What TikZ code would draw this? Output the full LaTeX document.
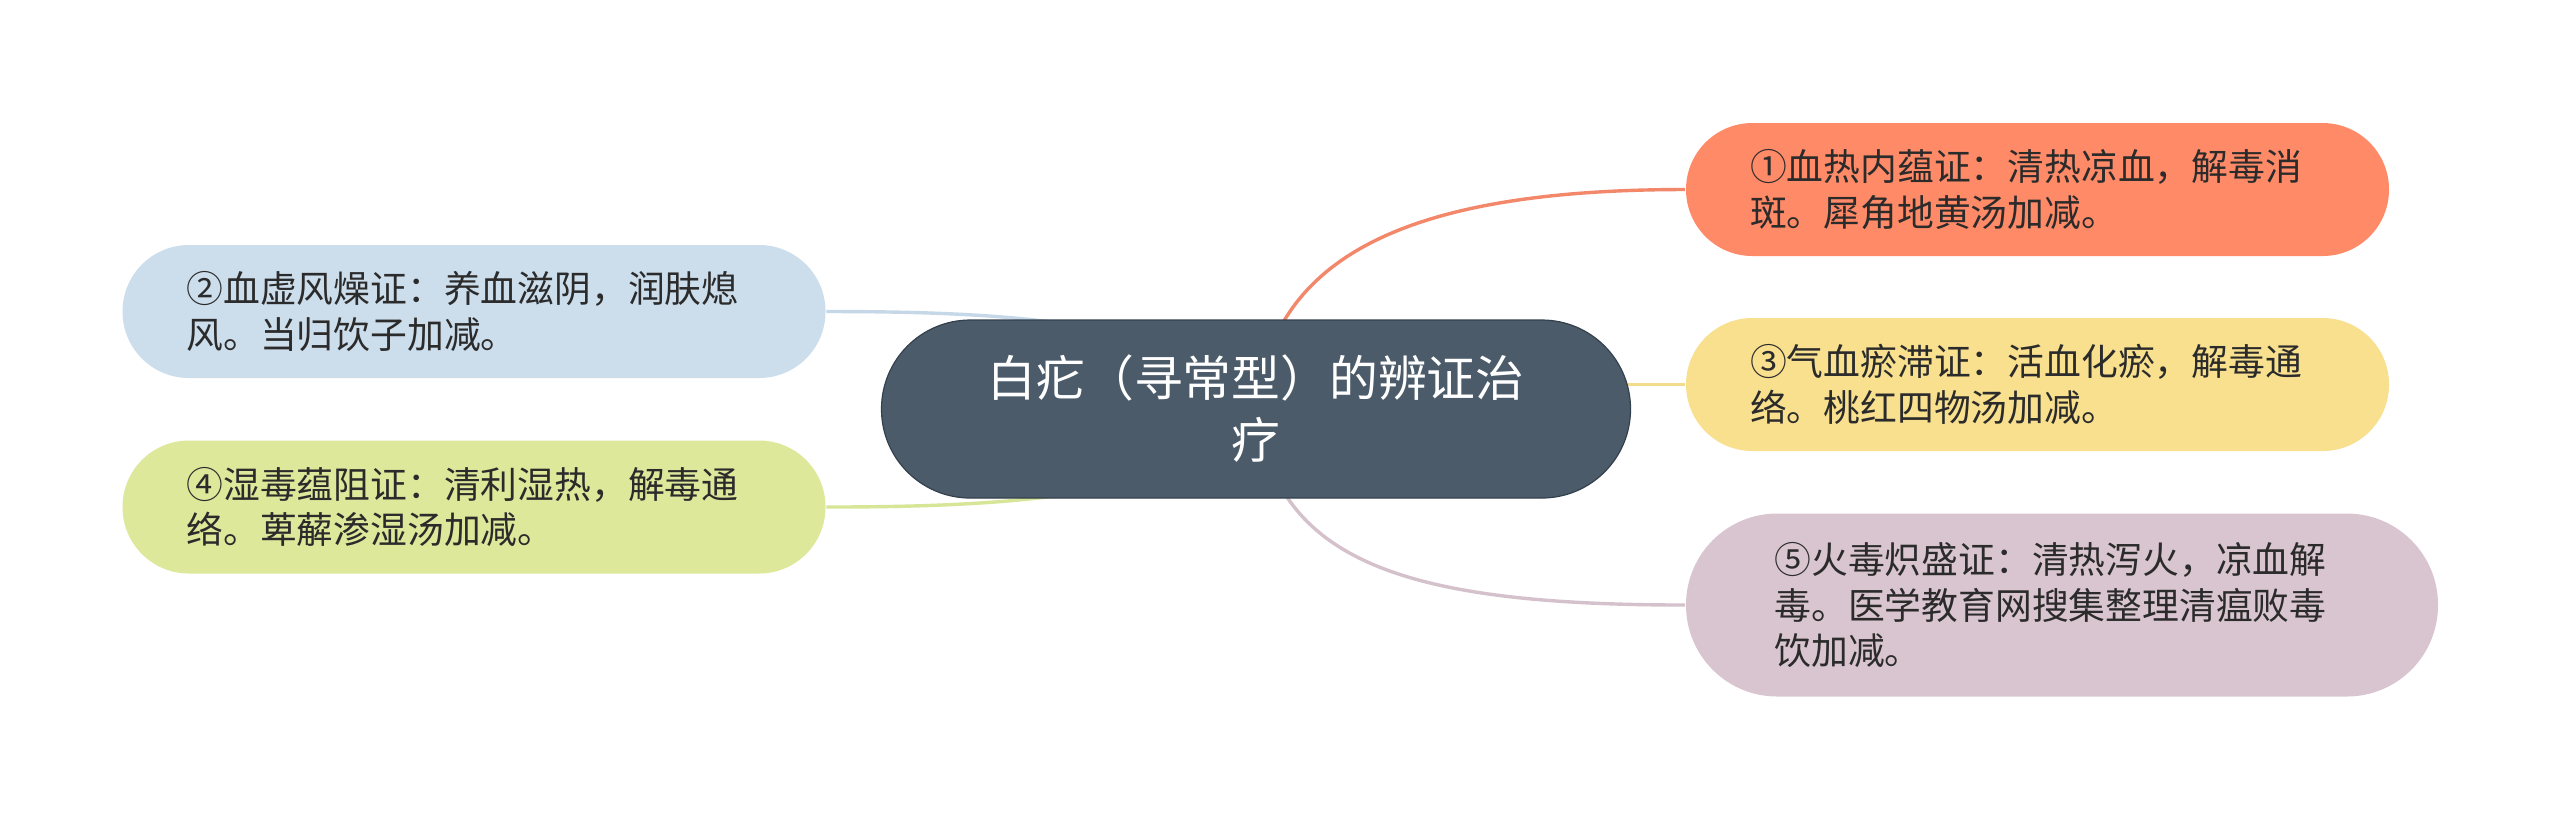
\documentclass[tikz,border=0pt]{standalone}
\usepackage{fontspec}
\usetikzlibrary{backgrounds}
\newfontfamily\cjk{Noto Sans CJK SC}
\definecolor{rootfill}{HTML}{4B5B6A}
\definecolor{rootline}{HTML}{34414D}
\definecolor{leaftext}{HTML}{2B2B2B}
\definecolor{xuerefill}{HTML}{FF8A68}
\definecolor{xuerelink}{HTML}{F2876A}
\definecolor{xuexufill}{HTML}{CCDDEC}
\definecolor{xuexulink}{HTML}{C6D8E8}
\definecolor{qixuefill}{HTML}{F8E08F}
\definecolor{qixuelink}{HTML}{F3DC8C}
\definecolor{shidufill}{HTML}{DDE89B}
\definecolor{shidulink}{HTML}{D6E596}
\definecolor{huodufill}{HTML}{D9C5CF}
\definecolor{huodulink}{HTML}{D4C1CB}
\begin{document}
\begin{tikzpicture}[x=0.25pt, y=-0.25pt,
    leaf/.style={rounded corners=16.6pt, minimum width=175.75pt, minimum height=33.25pt,
        text width=143.75pt, inner xsep=0pt, inner ysep=0pt, align=left, text=leaftext,
        font=\cjk\fontsize{9.2}{11.4}\selectfont},
    link/.style={line width=0.85pt}]
    \useasboundingbox (0,0) rectangle (2560,819);
    % centre
    \node[fill=rootfill, draw=rootline, line width=0.3pt, rounded corners=22.2pt,
        minimum width=187.25pt, minimum height=44.5pt, align=center, text=white,
        font=\cjk\fontsize{12.2}{15.5}\selectfont] (baibi) at (1256,409) {白疕（寻常型）的辨证治\\疗};
    % right side
    \node[leaf, fill=xuerefill] (xuere) at (2037.5,189.5) {①血热内蕴证：清热凉血，解毒消\\斑。犀角地黄汤加减。};
    \node[leaf, fill=qixuefill] (qixue) at (2037.5,384.5) {③气血瘀滞证：活血化瘀，解毒通\\络。桃红四物汤加减。};
    \node[leaf, fill=huodufill, minimum width=188pt, minimum height=45.75pt, rounded corners=22.8pt] (huodu) at (2062,605) {⑤火毒炽盛证：清热泻火，凉血解\\毒。医学教育网搜集整理清瘟败毒\\饮加减。};
    % left side
    \node[leaf, fill=xuexufill] (xuexu) at (474,311.5) {②血虚风燥证：养血滋阴，润肤熄\\风。当归饮子加减。};
    \node[leaf, fill=shidufill] (shidu) at (474,507) {④湿毒蕴阻证：清利湿热，解毒通\\络。萆薢渗湿汤加减。};
    \begin{scope}[on background layer]
        \fill[white] (0,0) rectangle (2560,819);
        \draw[link, xuerelink] (baibi.center) .. controls (1272,260) and (1400,189.5) .. (xuere.west);
        \draw[link, qixuelink] (qixue.west) -- (qixue.west -| baibi.center);
        \draw[link, huodulink] (baibi.center) .. controls (1276,560) and (1400,605) .. (huodu.west);
        \draw[link, xuexulink] (xuexu.east) .. controls (1000,311.5) and (1200,320) .. (baibi.center);
        \draw[link, shidulink] (shidu.east) .. controls (1000,507) and (1200,498) .. (baibi.center);
    \end{scope}
\end{tikzpicture}
\end{document}
